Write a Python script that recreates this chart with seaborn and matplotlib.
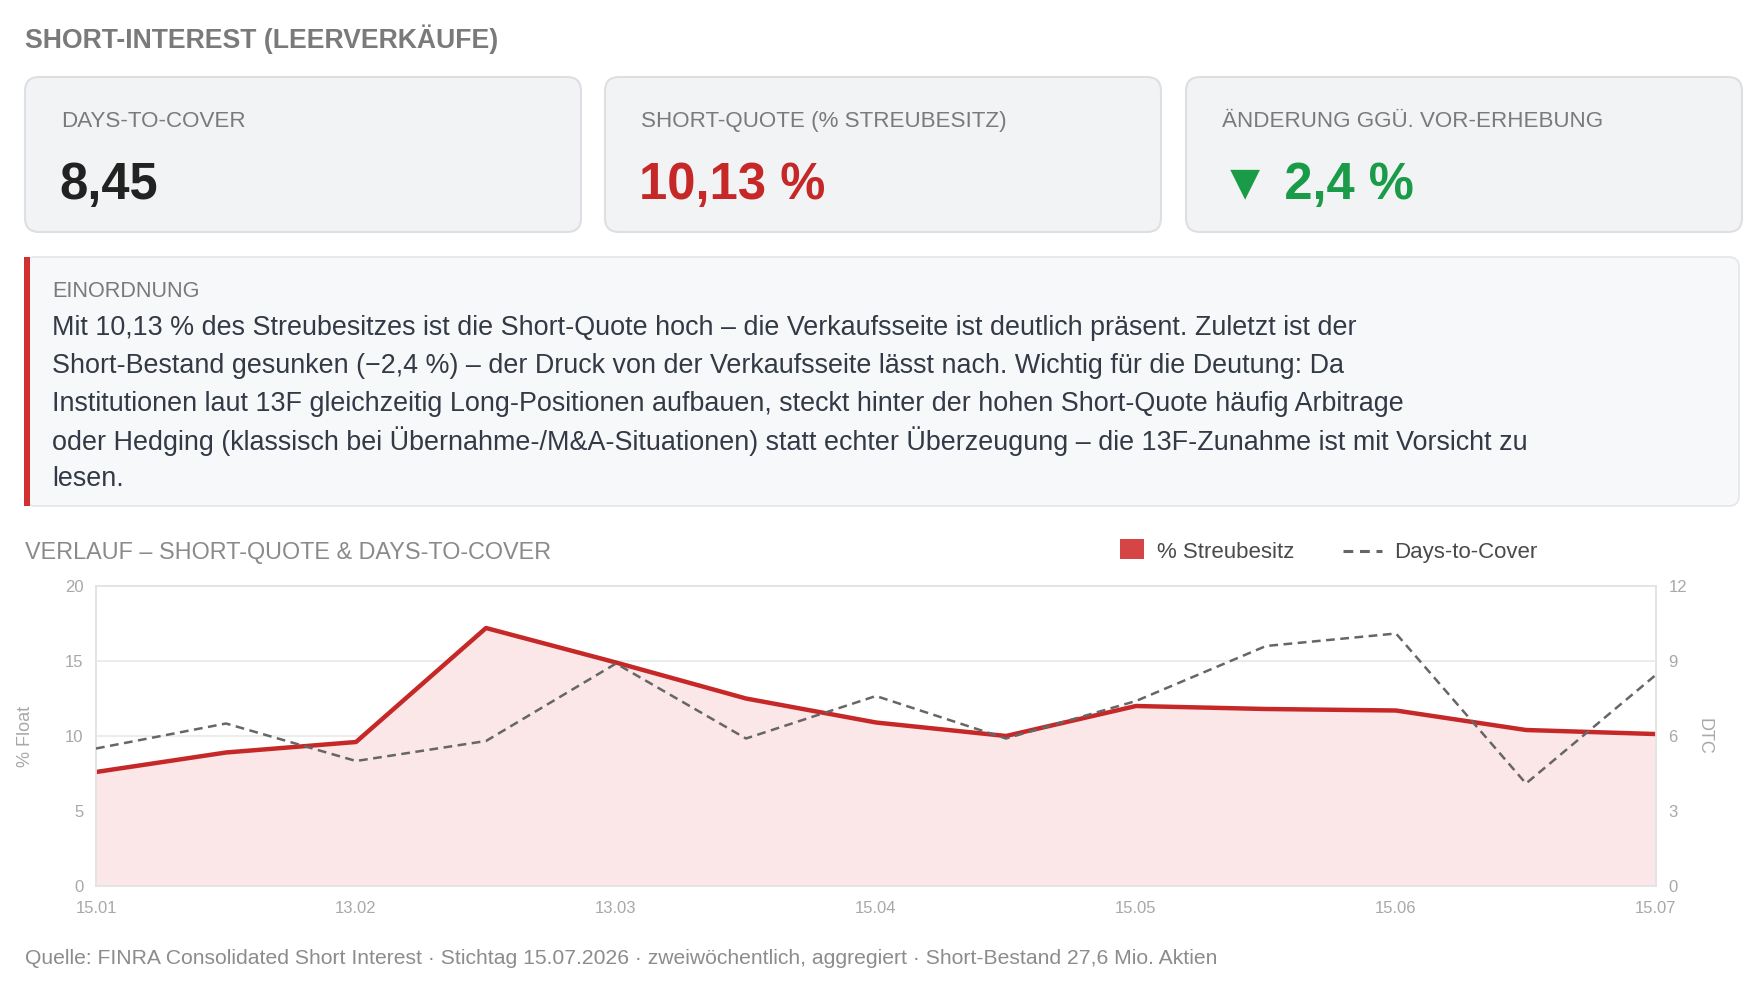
import matplotlib
matplotlib.use("Agg")
import matplotlib.pyplot as plt
import matplotlib.patches as mpatches
from matplotlib.lines import Line2D
import seaborn as sns
import pandas as pd

# data
dates = ["15.01", "29.01", "13.02", "27.02", "13.03", "31.03", "15.04",
         "30.04", "15.05", "29.05", "15.06", "30.06", "15.07"]
short_pct = [7.6, 8.9, 9.6, 17.2, 14.9, 12.5, 10.9, 10.0, 12.0, 11.8, 11.7, 10.4, 10.13]
days_to_cover = [5.5, 6.5, 5.0, 5.8, 8.9, 5.9, 7.6, 5.9, 7.4, 9.6, 10.1, 4.1, 8.45]

card_labels = ["DAYS-TO-COVER", "SHORT-QUOTE (% STREUBESITZ)", "ÄNDERUNG GGÜ. VOR-ERHEBUNG"]
card_values = ["8,45", "10,13 %", "▼ 2,4 %"]

note_lines = [
    "Mit 10,13 % des Streubesitzes ist die Short-Quote hoch – die Verkaufsseite ist deutlich präsent. Zuletzt ist der",
    "Short-Bestand gesunken (−2,4 %) – der Druck von der Verkaufsseite lässt nach. Wichtig für die Deutung: Da",
    "Institutionen laut 13F gleichzeitig Long-Positionen aufbauen, steckt hinter der hohen Short-Quote häufig Arbitrage",
    "oder Hedging (klassisch bei Übernahme-/M&A-Situationen) statt echter Überzeugung – die 13F-Zunahme ist mit Vorsicht zu",
    "lesen.",
]
footer = ("Quelle: FINRA Consolidated Short Interest · Stichtag 15.07.2026 · "
          "zweiwöchentlich, aggregiert · Short-Bestand 27,6 Mio. Aktien")

RED = "#c62828"
GREEN = "#1a9b48"
GREY_TXT = "#7a7a7a"
TICK = "#a8a8a8"

sns.set_style("white")
plt.rcParams["font.family"] = ["Liberation Sans", "DejaVu Sans"]

W, H = 1760, 996
fig = plt.figure(figsize=(W / 100, H / 100), dpi=100)
fig.patch.set_facecolor("white")

# pixel canvas for the dashboard parts
bg = fig.add_axes([0, 0, 1, 1], zorder=0)
bg.set_xlim(0, W)
bg.set_ylim(H, 0)
bg.axis("off")

bg.text(25, 39, "SHORT-INTEREST (LEERVERKÄUFE)", fontsize=19.2, fontweight="bold",
        color=GREY_TXT, va="center", ha="left")

# KPI cards
card_x = [25, 605, 1186]
card_w, card_top, card_h = 556, 77, 155
value_colors = ["#222222", RED, GREEN]
for x0, lab, val, col in zip(card_x, card_labels, card_values, value_colors):
    box = mpatches.FancyBboxPatch((x0, card_top), card_w, card_h,
                                  boxstyle="round,pad=0,rounding_size=14",
                                  facecolor="#f2f3f5", edgecolor="#dedfe2", lw=1.5)
    bg.add_patch(box)
    bg.text(x0 + 36, 121, lab, fontsize=16.1, color=GREY_TXT, va="center", ha="left")
    bg.text(x0 + 34, 185, val, fontsize=36.5, fontweight="bold", color=col,
            va="center", ha="left")

# note box
note = mpatches.FancyBboxPatch((25, 257), 1714, 249,
                               boxstyle="round,pad=0,rounding_size=10",
                               facecolor="#f7f8fa", edgecolor="#e3e5e8", lw=1.2)
bg.add_patch(note)
bg.add_patch(mpatches.Rectangle((24, 257), 6, 249, facecolor="#d32f2f", edgecolor="none"))
bg.text(52, 291, "EINORDNUNG", fontsize=15.6, color=GREY_TXT, va="center", ha="left")
for i, line in enumerate(note_lines):
    bg.text(52, 328 + i * 37.8, line, fontsize=19.4, color="#333a45",
            va="center", ha="left")

# chart header and legend
bg.text(25, 552, "VERLAUF – SHORT-QUOTE & DAYS-TO-COVER", fontsize=16.8,
        color="#8a8a8a", va="center", ha="left")
bg.add_patch(mpatches.Rectangle((1120, 539), 24, 20, facecolor="#d64545", edgecolor="none"))
bg.text(1157, 552, "% Streubesitz", fontsize=16, color="#4a4a4a", va="center", ha="left")
bg.add_line(Line2D([1343, 1382], [551, 551], color="#666666", lw=2.2,
                   linestyle=(0, (3.2, 2.2))))
bg.text(1394, 552, "Days-to-Cover", fontsize=16, color="#4a4a4a", va="center", ha="left")

bg.text(25, 958, footer, fontsize=15.2, color="#8c8c8c", va="center", ha="left")

# chart
left, right, top, bottom = 96, 1656, 586, 886
ax = fig.add_axes([left / W, 1 - bottom / H, (right - left) / W, (bottom - top) / H], zorder=2)
ax.patch.set_alpha(0)

df = pd.DataFrame({"pos": range(len(dates)), "date": dates,
                   "short": short_pct, "dtc": days_to_cover})

ax.fill_between(df["pos"], 0, df["short"], color="#fbe6e8", zorder=1, lw=0)
sns.lineplot(data=df, x="pos", y="short", ax=ax, color=RED, lw=3.2, zorder=3)

ax2 = ax.twinx()
sns.lineplot(data=df, x="pos", y="dtc", ax=ax2, color="#666666", lw=1.8, zorder=3)
ax2.lines[0].set_dashes((3.5, 2.2))

ax.set_xlim(0, len(dates) - 1)
ax.set_ylim(0, 20)
ax2.set_ylim(0, 12)
ax.set_yticks([0, 5, 10, 15, 20])
ax2.set_yticks([0, 3, 6, 9, 12])
ax.set_xticks(df["pos"][::2])
ax.set_xticklabels(df["date"][::2])

ax.grid(axis="y", color="#ebebeb", lw=1.3)
ax.grid(axis="x", visible=False)
ax2.grid(False)

for a in (ax, ax2):
    for s in a.spines.values():
        s.set_color("#e4e4e4")
        s.set_linewidth(1.3)
    a.tick_params(length=0, labelsize=12, labelcolor=TICK)
ax.tick_params(axis="y", pad=9)
ax.tick_params(axis="x", pad=11)
ax2.tick_params(axis="y", pad=9)

ax.set_xlabel("")
ax.set_ylabel("% Float", fontsize=13, color=TICK, labelpad=22)
ax2.set_ylabel("DTC", fontsize=13, color=TICK, rotation=270, labelpad=18)

fig.savefig("out.png", dpi=100, facecolor="white")
